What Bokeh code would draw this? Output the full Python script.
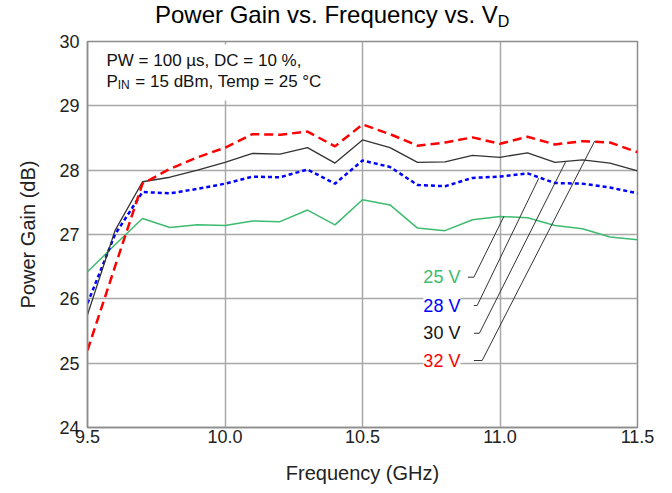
from bokeh.plotting import figure
from bokeh.layouts import column
from bokeh.models import Label, BoxAnnotation, FixedTicker, Range1d, Div
from bokeh.embed import file_html
from bokeh.resources import INLINE

# ---------------- data ----------------
freq_ghz = [9.5, 9.6, 9.7, 9.8, 9.9, 10.0, 10.1, 10.2, 10.3, 10.4, 10.5,
            10.6, 10.7, 10.8, 10.9, 11.0, 11.1, 11.2, 11.3, 11.4, 11.5]
gain_25v = [26.42, 26.84, 27.25, 27.11, 27.15, 27.14, 27.21, 27.20, 27.38, 27.15, 27.54,
            27.46, 27.10, 27.06, 27.23, 27.28, 27.26, 27.14, 27.09, 26.96, 26.92]
gain_28v = [25.93, 27.00, 27.66, 27.64, 27.71, 27.79, 27.90, 27.89, 28.01, 27.79, 28.15,
            28.05, 27.77, 27.75, 27.88, 27.90, 27.95, 27.80, 27.79, 27.73, 27.64]
gain_30v = [25.75, 27.06, 27.82, 27.89, 28.00, 28.12, 28.26, 28.25, 28.35, 28.11, 28.47,
            28.35, 28.12, 28.13, 28.23, 28.20, 28.27, 28.12, 28.16, 28.11, 27.99]
gain_32v = [25.20, 26.50, 27.79, 28.02, 28.20, 28.35, 28.56, 28.55, 28.60, 28.37, 28.71,
            28.56, 28.38, 28.43, 28.51, 28.41, 28.52, 28.40, 28.45, 28.43, 28.28]

series_names = ["25 V", "28 V", "30 V", "32 V"]
x_ticks = [9.5, 10.0, 10.5, 11.0, 11.5]
x_tick_labels = ["9.5", "10.0", "10.5", "11.0", "11.5"]
y_ticks = [24, 25, 26, 27, 28, 29, 30]

title_main = "Power Gain vs. Frequency vs. V"
title_sub = "D"

# leader lines (annotation): label end -> point on curve
leader_start_x = [10.883, 10.905, 10.905, 10.905]
leader_knee_x = [10.905, 10.917, 10.925, 10.935]
leader_y = [26.336, 25.896, 25.465, 25.041]
leader_end_x = [11.014, 11.141, 11.238, 11.344]
leader_end_y = [27.280, 27.874, 28.124, 28.450]

FONT = "Liberation Sans"
GREEN = "#3dbb6e"
BLUE = "#0000ff"
BLACK = "#333333"
RED = "#ff0000"

title_div = Div(
    text=('<div style="font-family:\'Liberation Sans\';font-size:24px;line-height:28px;'
          'padding-top:1px;padding-left:155px;color:#000;white-space:nowrap">'
          f'{title_main}<sub style="font-size:16px;vertical-align:-4px;line-height:0">{title_sub}</sub></div>'),
    width=664, height=29, margin=0)

p = figure(width=664, height=462, output_backend="svg", toolbar_location=None,
           title_location=None,
           x_range=Range1d(9.5, 11.5), y_range=Range1d(24, 30),
           min_border_left=87, min_border_right=27, min_border_top=12,
           min_border_bottom=64, margin=0)

p.background_fill_color = "white"
p.border_fill_color = "white"
p.outline_line_color = "#8c8c8c"
p.outline_line_width = 1.5

# axes
for ax in (p.xaxis[0], p.yaxis[0]):
    ax.axis_line_color = "#8c8c8c"
    ax.axis_line_width = 1.5
    ax.major_tick_in = 0
    ax.major_tick_out = 0
    ax.minor_tick_in = 0
    ax.minor_tick_out = 0
    ax.major_label_text_font = FONT
    ax.major_label_text_font_size = "18px"
    ax.major_label_text_color = "#222222"
    ax.axis_label_text_font = FONT
    ax.axis_label_text_font_size = "20px"
    ax.axis_label_text_font_style = "normal"
    ax.axis_label_text_color = "#222222"

p.xaxis.ticker = FixedTicker(ticks=x_ticks)
p.xaxis.major_label_overrides = {t: l for t, l in zip(x_ticks, x_tick_labels)}
p.yaxis.ticker = FixedTicker(ticks=y_ticks)
p.xaxis.axis_label = "Frequency (GHz)"
p.yaxis.axis_label = "Power Gain (dB)"
p.xaxis.major_label_standoff = 2
p.xaxis.axis_label_standoff = 16
p.yaxis.major_label_standoff = 8
p.yaxis.axis_label_standoff = 17

p.grid.grid_line_color = "#a8a8a8"
p.grid.grid_line_width = 1.5
p.xgrid.ticker = FixedTicker(ticks=x_ticks)
p.ygrid.ticker = FixedTicker(ticks=y_ticks)

# white box behind conditions text
p.add_layout(BoxAnnotation(left=9.507, right=10.438, bottom=29.083, top=29.953,
                           fill_color="white", fill_alpha=1.0, line_alpha=0,
                           level="underlay"))

# series
p.line(freq_ghz, gain_25v, line_color=GREEN, line_width=1.5)
p.line(freq_ghz, gain_28v, line_color=BLUE, line_width=2.5, line_dash="4 3")
p.line(freq_ghz, gain_30v, line_color=BLACK, line_width=1.3)
p.line(freq_ghz, gain_32v, line_color=RED, line_width=2.5, line_dash="9 5")

# leaders
for sx, kx, ly, ex, ey in zip(leader_start_x, leader_knee_x, leader_y, leader_end_x, leader_end_y):
    p.line([sx, kx, ex], [ly, ly, ey], line_color="#333333", line_width=1)

# series labels
label_colors = [GREEN, BLUE, "#111111", RED]
for name, ly, c in zip(series_names, leader_y, label_colors):
    p.add_layout(Label(x=10.856, y=ly, text=name, text_align="right",
                       text_baseline="middle", text_font=FONT,
                       text_font_size="18px", text_color=c,
                       background_fill_color="white", background_fill_alpha=1.0))

# condition text
p.add_layout(Label(x=9.569, y=29.704, text="PW = 100 \u00b5s, DC = 10 %,",
                   text_baseline="alphabetic", text_font=FONT,
                   text_font_size="17px", text_color="#111111"))
p.add_layout(Label(x=9.569, y=29.385, text="P",
                   text_baseline="alphabetic", text_font=FONT,
                   text_font_size="17px", text_color="#111111"))
p.add_layout(Label(x=9.610, y=29.32, text="IN",
                   text_baseline="alphabetic", text_font=FONT,
                   text_font_size="12px", text_color="#111111"))
p.add_layout(Label(x=9.674, y=29.385, text="= 15 dBm, Temp = 25 \u00b0C",
                   text_baseline="alphabetic", text_font=FONT,
                   text_font_size="17px", text_color="#111111"))

layout = column(title_div, p, spacing=0)
open("out.html", "w").write(file_html(layout, INLINE))
